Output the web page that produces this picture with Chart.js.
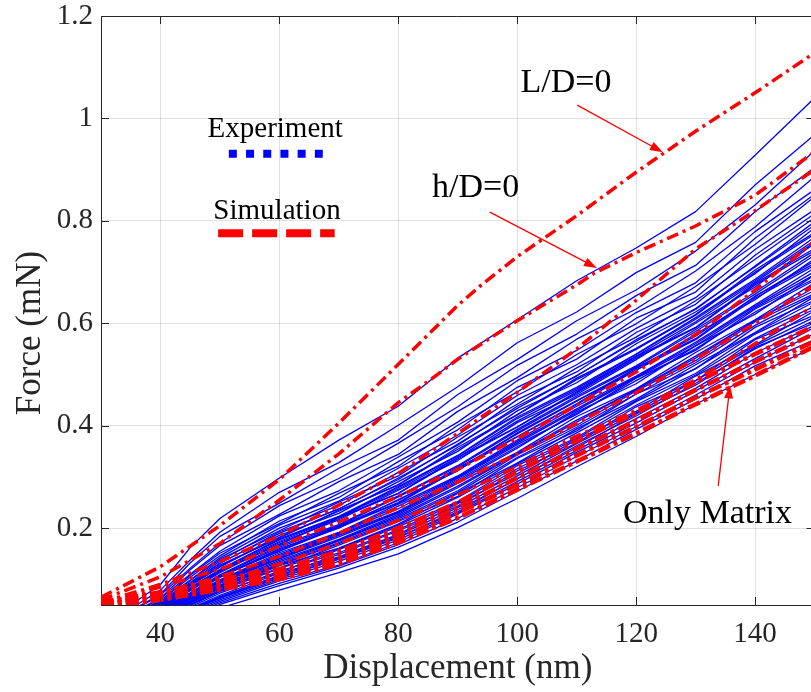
<!DOCTYPE html>
<html>
<head>
<meta charset="utf-8">
<script src="https://cdn.jsdelivr.net/npm/chart.js@4.4.1/dist/chart.umd.min.js"></script>
<style>
html, body { margin: 0; padding: 0; background: #fff; overflow: hidden; }
#wrap { width: 811px; height: 692px; overflow: hidden; }
canvas { display: block; }
</style>
</head>
<body>
<div id="wrap"><canvas id="chart" width="830" height="692"></canvas></div>
<script>
// Axis ticks
const xTicks = [40, 60, 80, 100, 120, 140];
const yTicks = [0.2, 0.4, 0.6, 0.8, 1, 1.2];

// Experiment curves, sampled at expX (nm)
const expX = [35, 40, 45, 50, 60, 70, 80, 90, 100, 110, 120, 130, 140, 150];
const exp01 = [0.000, 0.010, 0.024, 0.044, 0.079, 0.113, 0.150, 0.201, 0.258, 0.320, 0.379, 0.442, 0.500, 0.553];
const exp02 = [0.002, 0.013, 0.029, 0.051, 0.088, 0.122, 0.163, 0.212, 0.272, 0.331, 0.393, 0.452, 0.517, 0.568];
const exp03 = [0.004, 0.016, 0.034, 0.057, 0.097, 0.128, 0.172, 0.228, 0.286, 0.348, 0.405, 0.468, 0.531, 0.592];
const exp04 = [0.006, 0.018, 0.040, 0.063, 0.103, 0.141, 0.183, 0.232, 0.297, 0.357, 0.423, 0.479, 0.553, 0.601];
const exp05 = [0.007, 0.021, 0.043, 0.069, 0.112, 0.144, 0.188, 0.248, 0.306, 0.373, 0.428, 0.497, 0.558, 0.624];
const exp06 = [0.009, 0.024, 0.049, 0.076, 0.113, 0.158, 0.203, 0.252, 0.322, 0.377, 0.447, 0.502, 0.579, 0.633];
const exp07 = [0.010, 0.026, 0.051, 0.079, 0.127, 0.161, 0.208, 0.268, 0.327, 0.394, 0.452, 0.519, 0.582, 0.652];
const exp08 = [0.012, 0.029, 0.055, 0.086, 0.129, 0.172, 0.218, 0.273, 0.343, 0.401, 0.468, 0.527, 0.603, 0.658];
const exp09 = [0.013, 0.031, 0.061, 0.089, 0.137, 0.178, 0.227, 0.288, 0.348, 0.418, 0.472, 0.543, 0.607, 0.679];
const exp10 = [0.015, 0.034, 0.062, 0.096, 0.143, 0.188, 0.233, 0.297, 0.363, 0.422, 0.493, 0.547, 0.628, 0.687];
const exp11 = [0.016, 0.037, 0.068, 0.099, 0.152, 0.192, 0.247, 0.302, 0.372, 0.438, 0.497, 0.563, 0.636, 0.708];
const exp12 = [0.018, 0.039, 0.071, 0.107, 0.155, 0.203, 0.250, 0.318, 0.379, 0.443, 0.513, 0.570, 0.653, 0.717];
const exp13 = [0.019, 0.042, 0.074, 0.109, 0.166, 0.207, 0.263, 0.322, 0.393, 0.458, 0.517, 0.588, 0.661, 0.738];
const exp14 = [0.021, 0.043, 0.081, 0.117, 0.168, 0.221, 0.268, 0.338, 0.398, 0.466, 0.535, 0.592, 0.678, 0.746];
const exp15 = [0.022, 0.046, 0.084, 0.119, 0.179, 0.223, 0.281, 0.342, 0.417, 0.475, 0.540, 0.611, 0.686, 0.768];
const exp16 = [0.024, 0.048, 0.089, 0.128, 0.181, 0.235, 0.284, 0.358, 0.422, 0.493, 0.551, 0.617, 0.704, 0.777];
const exp17 = [0.025, 0.051, 0.091, 0.131, 0.193, 0.237, 0.298, 0.362, 0.438, 0.497, 0.568, 0.627, 0.712, 0.798];
const exp18 = [0.027, 0.052, 0.098, 0.139, 0.195, 0.251, 0.302, 0.378, 0.442, 0.513, 0.573, 0.644, 0.725, 0.806];
const exp19 = [0.028, 0.056, 0.099, 0.142, 0.206, 0.253, 0.317, 0.382, 0.459, 0.519, 0.590, 0.650, 0.744, 0.822];
const exp20 = [0.030, 0.057, 0.108, 0.151, 0.209, 0.268, 0.321, 0.401, 0.466, 0.539, 0.599, 0.672, 0.754, 0.847];
const exp21 = [0.032, 0.062, 0.110, 0.155, 0.224, 0.273, 0.339, 0.407, 0.488, 0.547, 0.621, 0.679, 0.779, 0.861];
const exp22 = [0.034, 0.063, 0.119, 0.166, 0.227, 0.291, 0.344, 0.428, 0.494, 0.569, 0.628, 0.702, 0.788, 0.886];
const exp23 = [0.037, 0.069, 0.122, 0.171, 0.244, 0.297, 0.366, 0.437, 0.518, 0.579, 0.654, 0.713, 0.818, 0.904];
const exp24 = [0.039, 0.071, 0.132, 0.184, 0.249, 0.317, 0.372, 0.461, 0.529, 0.605, 0.665, 0.741, 0.831, 0.937];
const exp25 = [0.043, 0.079, 0.138, 0.192, 0.270, 0.328, 0.401, 0.476, 0.562, 0.622, 0.699, 0.758, 0.870, 0.968];
const exp26 = [0.050, 0.090, 0.162, 0.219, 0.298, 0.372, 0.438, 0.532, 0.607, 0.683, 0.747, 0.818, 0.928, 1.040];
const exp27 = [0.008, 0.020, 0.041, 0.066, 0.108, 0.149, 0.195, 0.243, 0.312, 0.366, 0.437, 0.488, 0.568, 0.616];
const exp28 = [0.014, 0.033, 0.058, 0.092, 0.140, 0.183, 0.230, 0.291, 0.356, 0.427, 0.482, 0.556, 0.618, 0.694];
const exp29 = [0.017, 0.040, 0.070, 0.104, 0.160, 0.200, 0.256, 0.312, 0.386, 0.449, 0.508, 0.579, 0.646, 0.726];
const exp30 = [0.020, 0.044, 0.078, 0.113, 0.172, 0.216, 0.274, 0.332, 0.406, 0.461, 0.529, 0.600, 0.671, 0.756];
const exp31 = [0.023, 0.047, 0.087, 0.124, 0.186, 0.229, 0.291, 0.350, 0.429, 0.484, 0.560, 0.622, 0.697, 0.786];
const exp32 = [0.011, 0.027, 0.053, 0.082, 0.122, 0.167, 0.213, 0.262, 0.336, 0.390, 0.462, 0.511, 0.592, 0.645];
const exp33 = [0.026, 0.054, 0.094, 0.136, 0.200, 0.244, 0.309, 0.370, 0.451, 0.505, 0.582, 0.637, 0.733, 0.814];
const exp34 = [0.029, 0.059, 0.104, 0.146, 0.214, 0.260, 0.330, 0.392, 0.475, 0.530, 0.610, 0.661, 0.766, 0.852];
const exp35 = [0.003, 0.014, 0.031, 0.054, 0.092, 0.126, 0.168, 0.219, 0.279, 0.340, 0.398, 0.460, 0.524, 0.580];
const exp36 = [0.005, 0.017, 0.037, 0.060, 0.100, 0.135, 0.177, 0.230, 0.291, 0.352, 0.414, 0.473, 0.542, 0.596];
const exp37 = [0.007, 0.020, 0.042, 0.066, 0.107, 0.143, 0.186, 0.240, 0.302, 0.365, 0.425, 0.488, 0.556, 0.612];
const exp38 = [0.009, 0.023, 0.046, 0.073, 0.116, 0.152, 0.197, 0.250, 0.316, 0.375, 0.440, 0.499, 0.570, 0.628];
const exp39 = [0.010, 0.025, 0.050, 0.078, 0.121, 0.160, 0.206, 0.260, 0.325, 0.386, 0.449, 0.512, 0.581, 0.642];
const exp40 = [0.011, 0.028, 0.054, 0.084, 0.128, 0.170, 0.215, 0.270, 0.338, 0.397, 0.462, 0.523, 0.596, 0.655];
const exp41 = [0.013, 0.030, 0.058, 0.088, 0.134, 0.176, 0.224, 0.282, 0.346, 0.411, 0.470, 0.536, 0.605, 0.670];
const exp42 = [0.014, 0.033, 0.062, 0.094, 0.141, 0.186, 0.231, 0.294, 0.359, 0.424, 0.488, 0.550, 0.622, 0.684];
const exp43 = [0.016, 0.036, 0.066, 0.098, 0.149, 0.191, 0.243, 0.300, 0.369, 0.433, 0.496, 0.560, 0.633, 0.701];
const exp44 = [0.017, 0.038, 0.070, 0.105, 0.155, 0.201, 0.249, 0.314, 0.378, 0.441, 0.509, 0.568, 0.649, 0.713];
const exp45 = [0.019, 0.041, 0.073, 0.108, 0.163, 0.205, 0.261, 0.320, 0.390, 0.455, 0.515, 0.584, 0.657, 0.733];
const exp46 = [0.020, 0.043, 0.079, 0.115, 0.169, 0.219, 0.268, 0.335, 0.397, 0.464, 0.532, 0.591, 0.675, 0.742];
const exp47 = [0.022, 0.045, 0.083, 0.119, 0.177, 0.222, 0.279, 0.341, 0.414, 0.472, 0.539, 0.608, 0.683, 0.762];
const exp48 = [0.023, 0.048, 0.088, 0.126, 0.182, 0.233, 0.285, 0.354, 0.421, 0.490, 0.549, 0.616, 0.700, 0.774];
const exp49 = [0.025, 0.050, 0.092, 0.132, 0.190, 0.238, 0.295, 0.364, 0.434, 0.498, 0.565, 0.629, 0.710, 0.792];
const exp50 = [0.012, 0.028, 0.056, 0.087, 0.131, 0.175, 0.221, 0.279, 0.345, 0.407, 0.471, 0.532, 0.606, 0.664];
const exp51 = [0.015, 0.035, 0.064, 0.097, 0.146, 0.190, 0.238, 0.299, 0.366, 0.430, 0.494, 0.556, 0.630, 0.695];
const exp52 = [0.018, 0.040, 0.072, 0.106, 0.158, 0.204, 0.254, 0.316, 0.384, 0.448, 0.512, 0.575, 0.652, 0.722];
const exp53 = [0.006, 0.019, 0.039, 0.064, 0.104, 0.139, 0.181, 0.236, 0.296, 0.361, 0.419, 0.483, 0.550, 0.606];
const exp54 = [0.021, 0.044, 0.081, 0.117, 0.174, 0.221, 0.276, 0.338, 0.409, 0.469, 0.536, 0.603, 0.680, 0.758];
const expRuns = [exp01, exp02, exp03, exp04, exp05, exp06, exp07, exp08, exp09, exp10, exp11, exp12,
    exp13, exp14, exp15, exp16, exp17, exp18, exp19, exp20, exp21, exp22, exp23, exp24, exp25, exp26,
    exp27, exp28, exp29, exp30, exp31, exp32, exp33, exp34, exp35, exp36, exp37, exp38, exp39, exp40,
    exp41, exp42, exp43, exp44, exp45, exp46, exp47, exp48, exp49, exp50, exp51, exp52, exp53, exp54];

// Simulation curves
const ldX = [30, 40, 50, 60, 70, 80, 90, 94, 100, 110, 120, 130, 140, 150];
const ldY = [0.065, 0.125, 0.205, 0.295, 0.405, 0.52, 0.635, 0.675, 0.73, 0.81, 0.895, 0.975, 1.05, 1.128];
const hdX = [30, 40, 50, 60, 70, 75, 80, 86, 90, 100, 105, 110, 113, 120, 130, 140, 150];
const hdY = [0.06, 0.105, 0.17, 0.255, 0.345, 0.395, 0.445, 0.495, 0.53, 0.605, 0.64, 0.675, 0.698, 0.738, 0.79, 0.85, 0.935];
const simX = [30, 40, 50, 60, 70, 80, 90, 100, 110, 120, 130, 140, 150];
const sim3 = [0.055, 0.09, 0.135, 0.185, 0.245, 0.307, 0.385, 0.465, 0.55, 0.645, 0.745, 0.82, 0.9];
const sim4 = [0.055, 0.085, 0.12, 0.165, 0.212, 0.262, 0.315, 0.375, 0.44, 0.505, 0.578, 0.665, 0.76];
const sim5 = [0.05, 0.075, 0.105, 0.145, 0.19, 0.24, 0.29, 0.345, 0.405, 0.465, 0.53, 0.6, 0.675];
const sim6 = [0.05, 0.07, 0.095, 0.13, 0.17, 0.215, 0.265, 0.32, 0.38, 0.43, 0.49, 0.56, 0.635];
const matrix1 = [0.055, 0.075, 0.1, 0.12, 0.155, 0.2, 0.25, 0.31, 0.37, 0.425, 0.485, 0.54, 0.595];
const matrix2 = [0.05, 0.07, 0.09, 0.112, 0.145, 0.19, 0.24, 0.298, 0.355, 0.41, 0.47, 0.525, 0.58];
const matrix3 = [0.048, 0.065, 0.085, 0.105, 0.138, 0.18, 0.23, 0.285, 0.342, 0.398, 0.455, 0.51, 0.565];
const matrix4 = [0.045, 0.06, 0.08, 0.1, 0.13, 0.172, 0.22, 0.275, 0.33, 0.385, 0.442, 0.498, 0.555];

// Labels placed in data coordinates
const notes = [
    { text: 'L/D=0', x: 108.2, y: 1.052, from: [110.1, 1.026], to: [124.5, 0.934] },
    { text: 'h/D=0', x: 93.0, y: 0.846, from: [95.4, 0.817], to: [113.4, 0.708] },
    { text: 'Only Matrix', x: 132.0, y: 0.21, from: [133.8, 0.282], to: [135.8, 0.479] }
];

const BLUE = '#0000ff';
const RED = '#ff0000';
const TEXT = '#262626';
const SERIF = '"Liberation Serif", "Times New Roman", serif';

function toPoints(xs, ys) {
    return xs.map((x, i) => ({ x: x, y: ys[i] }));
}

const datasets = [];

// Simulation lines first so they sit on top
[[ldX, ldY], [hdX, hdY], [simX, sim3], [simX, sim4], [simX, sim5], [simX, sim6]].forEach(([xs, ys]) => {
    datasets.push({
        data: toPoints(xs, ys),
        borderColor: RED,
        borderWidth: 3.5,
        borderDash: [12, 5, 3, 5]
    });
});
[matrix1, matrix2, matrix3, matrix4].forEach(ys => {
    datasets.push({
        data: toPoints(simX, ys),
        borderColor: RED,
        borderWidth: 4.5,
        borderDash: [13, 4, 4, 4]
    });
});
expRuns.forEach(ys => {
    datasets.push({
        data: toPoints(expX, ys),
        borderColor: BLUE,
        borderWidth: 1.3
    });
});

function arrow(ctx, x1, y1, x2, y2) {
    const ang = Math.atan2(y2 - y1, x2 - x1);
    const len = 13, half = 4.5;
    ctx.beginPath();
    ctx.moveTo(x1, y1);
    ctx.lineTo(x2 - Math.cos(ang) * len * 0.8, y2 - Math.sin(ang) * len * 0.8);
    ctx.stroke();
    ctx.beginPath();
    ctx.moveTo(x2, y2);
    ctx.lineTo(x2 - Math.cos(ang) * len - Math.sin(ang) * half, y2 - Math.sin(ang) * len + Math.cos(ang) * half);
    ctx.lineTo(x2 - Math.cos(ang) * len + Math.sin(ang) * half, y2 - Math.sin(ang) * len - Math.cos(ang) * half);
    ctx.closePath();
    ctx.fill();
}

const decor = {
    id: 'decor',
    afterDatasetsDraw(chart) {
        const { ctx, chartArea: a, scales: { x, y } } = chart;
        ctx.save();

        // Box top and inward tick marks
        ctx.strokeStyle = TEXT;
        ctx.lineWidth = 1;
        ctx.setLineDash([]);
        ctx.beginPath();
        ctx.moveTo(a.left, a.top + 0.5);
        ctx.lineTo(a.right, a.top + 0.5);
        xTicks.forEach(v => {
            const px = Math.round(x.getPixelForValue(v)) + 0.5;
            ctx.moveTo(px, a.bottom);
            ctx.lineTo(px, a.bottom - 8);
            ctx.moveTo(px, a.top);
            ctx.lineTo(px, a.top + 8);
        });
        yTicks.forEach(v => {
            const py = Math.round(y.getPixelForValue(v)) + 0.5;
            ctx.moveTo(a.left, py);
            ctx.lineTo(a.left + 8, py);
            ctx.moveTo(a.right, py);
            ctx.lineTo(a.right - 8, py);
        });
        ctx.stroke();

        // Y axis title
        ctx.save();
        ctx.translate(31, 333);
        ctx.rotate(-Math.PI / 2);
        ctx.fillStyle = TEXT;
        ctx.font = '35px ' + SERIF;
        ctx.textAlign = 'center';
        ctx.textBaseline = 'middle';
        ctx.fillText('Force (mN)', 0, 0);
        ctx.restore();

        // Legend
        ctx.fillStyle = '#000';
        ctx.font = '29px ' + SERIF;
        ctx.textAlign = 'center';
        ctx.textBaseline = 'alphabetic';
        ctx.fillText('Experiment', x.getPixelForValue(59.3), y.getPixelForValue(0.964));
        ctx.fillText('Simulation', x.getPixelForValue(59.6), y.getPixelForValue(0.8035));

        ctx.lineWidth = 8;
        ctx.strokeStyle = BLUE;
        ctx.setLineDash([8, 9.2]);
        ctx.beginPath();
        ctx.moveTo(x.getPixelForValue(51.5), y.getPixelForValue(0.931));
        ctx.lineTo(x.getPixelForValue(67.3), y.getPixelForValue(0.931));
        ctx.stroke();

        ctx.strokeStyle = RED;
        ctx.setLineDash([25, 9]);
        ctx.beginPath();
        ctx.moveTo(x.getPixelForValue(49.7), y.getPixelForValue(0.776));
        ctx.lineTo(x.getPixelForValue(69.3), y.getPixelForValue(0.776));
        ctx.stroke();

        // Annotations with arrows
        ctx.setLineDash([]);
        ctx.font = '34px ' + SERIF;
        notes.forEach(n => {
            ctx.fillStyle = '#000';
            ctx.fillText(n.text, x.getPixelForValue(n.x), y.getPixelForValue(n.y));
            ctx.strokeStyle = RED;
            ctx.fillStyle = RED;
            ctx.lineWidth = 1.3;
            arrow(ctx,
                x.getPixelForValue(n.from[0]), y.getPixelForValue(n.from[1]),
                x.getPixelForValue(n.to[0]), y.getPixelForValue(n.to[1]));
        });

        ctx.restore();
    }
};

new Chart(document.getElementById('chart'), {
    type: 'line',
    data: { datasets: datasets },
    options: {
        responsive: false,
        animation: false,
        layout: { padding: { top: 16, right: 15.5, left: 0, bottom: 0 } },
        elements: {
            point: { radius: 0 },
            line: { tension: 0, fill: false, borderCapStyle: 'butt', borderJoinStyle: 'round' }
        },
        plugins: {
            legend: { display: false },
            tooltip: { enabled: false }
        },
        scales: {
            x: {
                type: 'linear',
                min: 30,
                max: 150,
                afterFit: s => { s.height = 87; s.paddingLeft = 0; s.paddingRight = 0; },
                afterBuildTicks: s => { s.ticks = xTicks.map(v => ({ value: v })); },
                grid: { color: 'rgba(0,0,0,0.12)', drawTicks: false },
                border: { color: TEXT, width: 1 },
                ticks: {
                    font: { family: SERIF, size: 29 },
                    color: TEXT,
                    padding: 12,
                    maxRotation: 0,
                    callback: v => String(v)
                },
                title: {
                    display: true,
                    text: 'Displacement (nm)',
                    font: { family: SERIF, size: 35 },
                    color: TEXT,
                    padding: { top: 0, bottom: 2 }
                }
            },
            y: {
                type: 'linear',
                min: 0.05,
                max: 1.2,
                afterFit: s => { s.width = 101; s.paddingTop = 0; s.paddingBottom = 0; },
                afterBuildTicks: s => { s.ticks = yTicks.map(v => ({ value: v })); },
                grid: { color: 'rgba(0,0,0,0.12)', drawTicks: false },
                border: { color: TEXT, width: 1 },
                ticks: {
                    font: { family: SERIF, size: 29 },
                    color: TEXT,
                    padding: 8,
                    callback: v => String(v)
                }
            }
        }
    },
    plugins: [decor]
});
</script>
</body>
</html>
